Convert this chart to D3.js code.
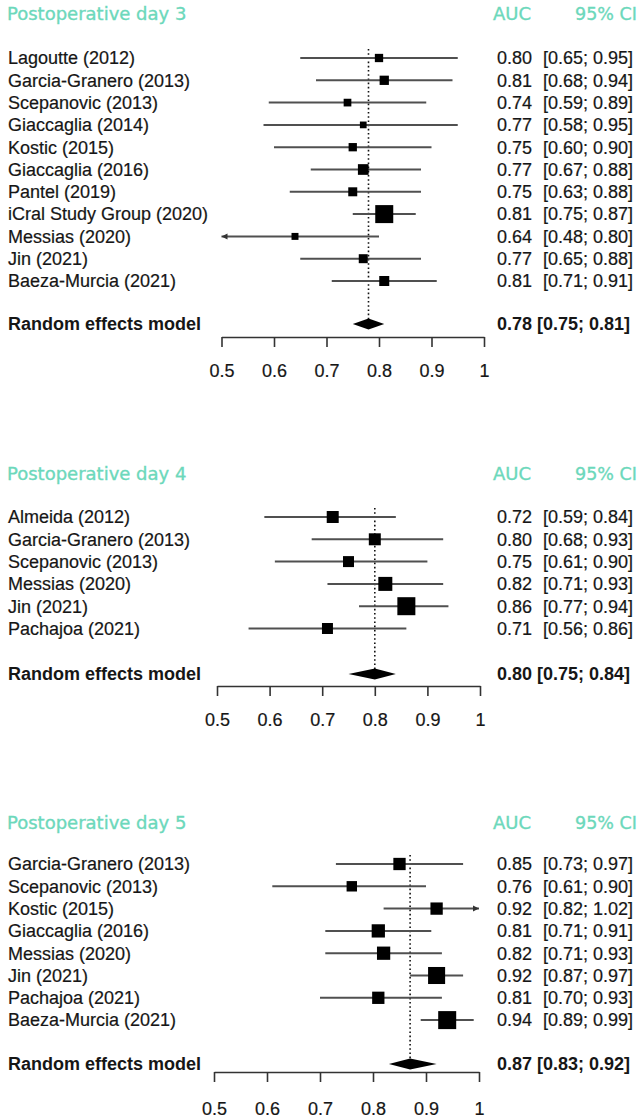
<!DOCTYPE html>
<html>
<head>
<meta charset="utf-8">
<script src="https://cdn.jsdelivr.net/npm/d3@7"></script>
<style>
  body { margin: 0; background: #fff; }
  svg { display: block; }
</style>
</head>
<body>
<div id="chart"></div>
<script>
// data
var titles = ["Postoperative day 3", "Postoperative day 4", "Postoperative day 5"];

var day3Studies = ["Lagoutte (2012)", "Garcia-Granero (2013)", "Scepanovic (2013)", "Giaccaglia (2014)",
                   "Kostic (2015)", "Giaccaglia (2016)", "Pantel (2019)", "iCral Study Group (2020)",
                   "Messias (2020)", "Jin (2021)", "Baeza-Murcia (2021)"];
var day3Auc    = [0.80, 0.81, 0.74, 0.77, 0.75, 0.77, 0.75, 0.81, 0.64, 0.77, 0.81];
var day3Lower  = [0.65, 0.68, 0.59, 0.58, 0.60, 0.67, 0.63, 0.75, 0.48, 0.65, 0.71];
var day3Upper  = [0.95, 0.94, 0.89, 0.95, 0.90, 0.88, 0.88, 0.87, 0.80, 0.88, 0.91];
var day3Weight = [6.4, 8.0, 5.5, 4.2, 6.4, 10.6, 7.5, 30.1, 4.5, 7.5, 9.3];
var day3Pooled = [0.78, 0.75, 0.81];

var day4Studies = ["Almeida (2012)", "Garcia-Granero (2013)", "Scepanovic (2013)", "Messias (2020)",
                   "Jin (2021)", "Pachajoa (2021)"];
var day4Auc    = [0.72, 0.80, 0.75, 0.82, 0.86, 0.71];
var day4Lower  = [0.59, 0.68, 0.61, 0.71, 0.77, 0.56];
var day4Upper  = [0.84, 0.93, 0.90, 0.93, 0.94, 0.86];
var day4Weight = [13.7, 13.7, 11.5, 18.7, 30.9, 11.5];
var day4Pooled = [0.80, 0.75, 0.84];

var day5Studies = ["Garcia-Granero (2013)", "Scepanovic (2013)", "Kostic (2015)", "Giaccaglia (2016)",
                   "Messias (2020)", "Jin (2021)", "Pachajoa (2021)", "Baeza-Murcia (2021)"];
var day5Auc    = [0.85, 0.76, 0.92, 0.81, 0.82, 0.92, 0.81, 0.94];
var day5Lower  = [0.73, 0.61, 0.82, 0.71, 0.71, 0.87, 0.70, 0.89];
var day5Upper  = [0.97, 0.90, 1.02, 0.91, 0.93, 0.97, 0.93, 0.99];
var day5Weight = [9.9, 7.1, 9.9, 11.5, 11.5, 19.0, 9.9, 21.2];
var day5Pooled = [0.87, 0.83, 0.92];

var axisTicks = [0.5, 0.6, 0.7, 0.8, 0.9, 1];
var axisDomain = [0.5, 1];

function rows(names, auc, lo, hi, wt) {
  return names.map(function(n, i) {
    return { name: n, auc: auc[i], lo: lo[i], hi: hi[i], w: wt[i] };
  });
}

var panels = [
  { title: titles[0], rows: rows(day3Studies, day3Auc, day3Lower, day3Upper, day3Weight), pooled: day3Pooled },
  { title: titles[1], rows: rows(day4Studies, day4Auc, day4Lower, day4Upper, day4Weight), pooled: day4Pooled },
  { title: titles[2], rows: rows(day5Studies, day5Auc, day5Lower, day5Upper, day5Weight), pooled: day5Pooled }
];

// where each panel sits on the page
var layout = [
  { top: 14,  row0: 58,  re: 324,  axis: 337,  x0: 221.5, x1: 484, lab: 17 },
  { top: 474, row0: 517, re: 674,  axis: 686,  x0: 217,   x1: 480, lab: 17 },
  { top: 823, row0: 864, re: 1064, axis: 1072, x0: 214,   x1: 479, lab: 20 }
];
var rowStep = 22.3;
var teal = "#6cd8bb";
var ink = "#161616";
var fmt = d3.format(".2f");

var svg = d3.select("#chart").append("svg")
    .attr("width", 637).attr("height", 1119);

function drawPanel(p, lay) {
  var g = svg.append("g");
  var x = d3.scaleLinear().domain(axisDomain).range([lay.x0, lay.x1]);
  var y = function(i) { return lay.row0 + i * rowStep; };
  var size = d3.scaleSqrt().domain([0, d3.max(p.rows, d => d.w)]).range([0, 18]);

  // headers
  var head = g.append("g").attr("fill", teal).attr("stroke", teal).attr("stroke-width", 0.35)
      .style("font-family", "'DejaVu Sans', sans-serif").style("font-size", "18px");
  head.append("text").attr("x", 7).attr("y", lay.top).attr("dy", "0.35em").text(p.title);
  head.append("text").attr("x", 493).attr("y", lay.top).attr("dy", "0.35em").text("AUC");
  head.append("text").attr("x", 575).attr("y", lay.top).attr("dy", "0.35em")
      .style("font-size", "17.5px").text("95% CI");

  // reference line at pooled estimate
  g.append("line")
      .attr("x1", x(p.pooled[0])).attr("x2", x(p.pooled[0]))
      .attr("y1", lay.row0 - 9).attr("y2", lay.re)
      .attr("stroke", "#111").attr("stroke-width", 1.6)
      .attr("stroke-dasharray", "1.6,2.6");

  var row = g.selectAll("g.study").data(p.rows).enter().append("g")
      .attr("class", "study")
      .attr("transform", (d, i) => "translate(0," + y(i) + ")");

  row.append("line")
      .attr("x1", d => x(Math.max(d.lo, axisDomain[0])))
      .attr("x2", d => x(Math.min(d.hi, axisDomain[1])))
      .attr("stroke", "#505050").attr("stroke-width", 2);

  // arrows where the interval runs off the axis
  row.filter(d => d.lo < axisDomain[0]).append("path")
      .attr("d", d => { var a = x(axisDomain[0]); return "M" + a + ",0L" + (a + 6) + ",-3L" + (a + 6) + ",3Z"; })
      .attr("fill", "#333");
  row.filter(d => d.hi > axisDomain[1]).append("path")
      .attr("d", d => { var a = x(axisDomain[1]); return "M" + a + ",0L" + (a - 6) + ",-3L" + (a - 6) + ",3Z"; })
      .attr("fill", "#333");

  row.append("rect")
      .attr("x", d => x(d.auc) - size(d.w) / 2)
      .attr("y", d => -size(d.w) / 2)
      .attr("width", d => size(d.w))
      .attr("height", d => size(d.w))
      .attr("fill", "#000");

  var txt = row.append("g").attr("fill", ink).attr("stroke", ink).attr("stroke-width", 0.2)
      .style("font-family", "'Liberation Sans', Arial, sans-serif").style("font-size", "18px");
  txt.append("text").attr("x", 8).attr("dy", "0.35em").text(d => d.name);
  txt.append("text").attr("x", 497).attr("dy", "0.35em").text(d => fmt(d.auc));
  txt.append("text").attr("x", 543).attr("dy", "0.35em")
      .text(d => "[" + fmt(d.lo) + "; " + fmt(d.hi) + "]");

  // pooled diamond
  var pe = p.pooled;
  g.append("path")
      .attr("d", "M" + x(pe[1]) + "," + lay.re + "L" + x(pe[0]) + "," + (lay.re - 5.5) +
                 "L" + x(pe[2]) + "," + lay.re + "L" + x(pe[0]) + "," + (lay.re + 5.5) + "Z")
      .attr("fill", "#000");

  var bold = g.append("g").attr("fill", ink)
      .style("font-family", "'Liberation Sans', Arial, sans-serif").style("font-size", "18px")
      .style("font-weight", "bold");
  bold.append("text").attr("x", 8).attr("y", lay.re).attr("dy", "0.35em").text("Random effects model");
  bold.append("text").attr("x", 497).attr("y", lay.re).attr("dy", "0.35em")
      .text(fmt(pe[0]) + " [" + fmt(pe[1]) + "; " + fmt(pe[2]) + "]");

  // axis
  var ax = g.append("g")
      .attr("transform", "translate(0," + lay.axis + ")")
      .call(d3.axisBottom(x).tickValues(axisTicks).tickFormat(d3.format("~g"))
              .tickSize(10).tickSizeOuter(0).tickPadding(lay.lab));
  ax.select(".domain").attr("stroke", "#333").attr("stroke-width", 1.6);
  ax.selectAll(".tick line").attr("stroke", "#333").attr("stroke-width", 1.6);
  ax.selectAll(".tick text").attr("fill", ink).attr("stroke", ink).attr("stroke-width", 0.2)
      .style("font-family", "'Liberation Sans', Arial, sans-serif").style("font-size", "18px");
}

panels.forEach(function(p, i) { drawPanel(p, layout[i]); });
</script>
</body>
</html>
